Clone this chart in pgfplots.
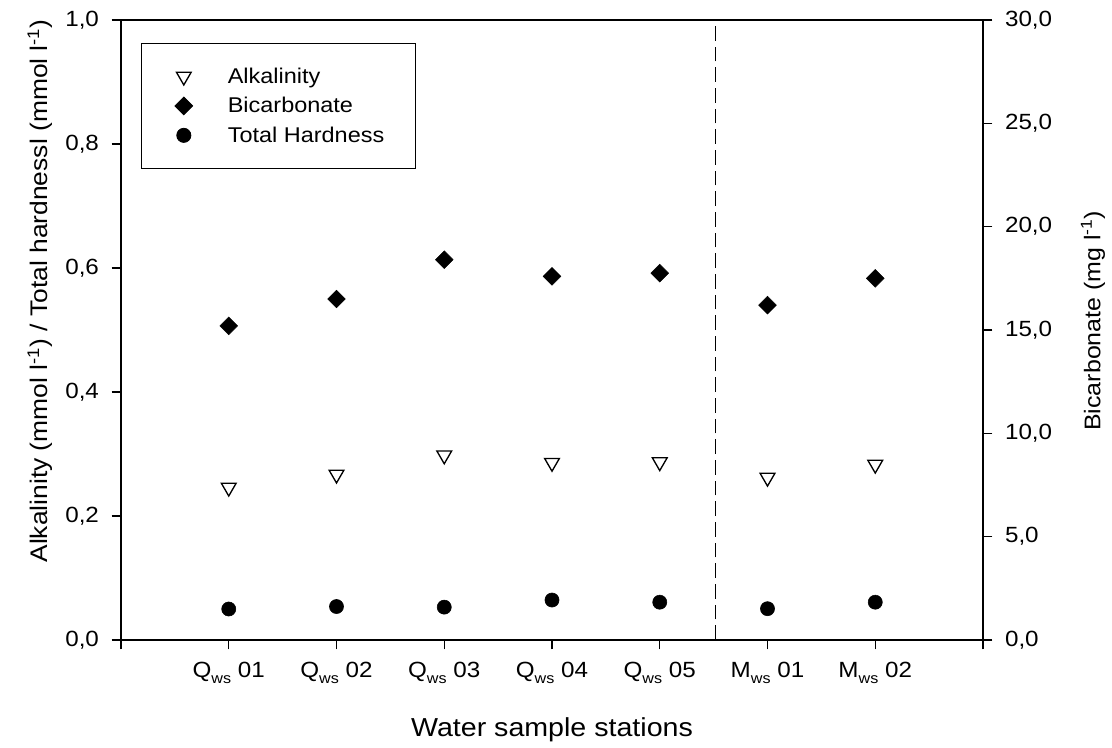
\documentclass[border=0pt]{standalone}
\usepackage{pgfplots}
\pgfplotsset{compat=1.18}
\usepackage{fontspec}
\setmainfont[FakeStretch=1.1]{Liberation Sans}
\newcommand{\ws}{\raisebox{-4.5pt}{\fontsize{11}{11}\selectfont ws}}

\pgfplotstableread{
x alk hard
1 0.246 0.050
2 0.267 0.054
3 0.298 0.053
4 0.286 0.0645
5 0.287 0.061
6 0.262 0.0505
7 0.283 0.061
}\mainT
\pgfplotstableread{
x bic
1 15.2
2 16.5
3 18.4
4 17.6
5 17.75
6 16.2
7 17.5
}\bicT

\pgfplotsset{
  common/.style={
    scale only axis, width=646.5pt, height=465pt,
    xmin=0, xmax=8,
    tick align=outside, major tick length=7pt,
    tick style={black, line width=0.8pt},
    axis line style={line width=0.9pt},
    ticklabel style={font=\fontsize{16.5}{18}\selectfont},
    yticklabel style={/pgf/number format/fixed, /pgf/number format/fixed zerofill,
      /pgf/number format/precision=1, /pgf/number format/use comma,
      /pgf/number format/assume math mode=true},
  },
  alkstyle/.style={only marks, mark=triangle, mark size=6.4pt, mark options={rotate=180, draw=black, fill=white, line width=1pt}},
  bicstyle/.style={only marks, mark=square*, mark size=4.7pt, mark options={rotate=45, draw=black, fill=black}},
  hardstyle/.style={only marks, mark=*, mark size=5.3pt, mark options={draw=black, fill=black}},
}

\begin{document}
\begin{tikzpicture}
\useasboundingbox (-90.75pt,-80.25pt) rectangle (743.25pt,480pt);
\begin{axis}[common,
  ymin=0, ymax=1,
  axis y line*=left,
  xtick={0,...,8},
  xticklabels={{},{Q\ws\ 01},{Q\ws\ 02},{Q\ws\ 03},{Q\ws\ 04},{Q\ws\ 05},{M\ws\ 01},{M\ws\ 02},{}},
  xticklabel style={yshift=-6pt},
  yticklabel style={xshift=-6pt},
  xtick pos=left,
  ytick={0,0.2,0.4,0.6,0.8,1},
  xlabel={Water sample stations},
  xlabel style={font=\fontsize{19.5}{21}\selectfont, at={(axis description cs:0.5,-0.145)}, anchor=center},
  ylabel={Alkalinity (mmol l\textsuperscript{-1}) / Total hardnessl (mmol l\textsuperscript{-1})},
  ylabel style={font=\fontsize{18}{20}\selectfont, at={(axis description cs:-0.094,0.563)}, anchor=center},
  legend cell align=left,
  legend image code/.code={\path[draw=none] (-11pt,0pt) -- (31pt,0pt); \draw[#1] plot coordinates {(0pt,0pt)};},
  legend style={at={(0.0229,0.9624)}, anchor=north west, draw=black, line width=0.6pt,
    font=\fontsize{16}{18}\selectfont, inner xsep=21pt, inner ysep=16pt, row sep=5pt},
]
\addplot[alkstyle] table[x=x, y=alk] {\mainT};
\addlegendentry{Alkalinity}
\addlegendimage{bicstyle}
\addlegendentry{Bicarbonate}
\addplot[hardstyle] table[x=x, y=hard] {\mainT};
\addlegendentry{Total Hardness}
\addplot[black, line width=0.8pt, dash pattern=on 11pt off 4.5pt, forget plot] coordinates {(5.52,0) (5.52,1)};
\end{axis}
\begin{axis}[common,
  ymin=0, ymax=30,
  axis y line*=right,
  axis x line=none,
  ytick={0,5,10,15,20,25,30},
  yticklabel style={xshift=6pt},
  ylabel={Bicarbonate (mg l\textsuperscript{-1})},
  ylabel style={font=\fontsize{17}{19}\selectfont, at={(axis description cs:1.1276,0.515)}, anchor=center, rotate=0},
]
\addplot[bicstyle] table[x=x, y=bic] {\bicT};
\end{axis}
\end{tikzpicture}
\end{document}
